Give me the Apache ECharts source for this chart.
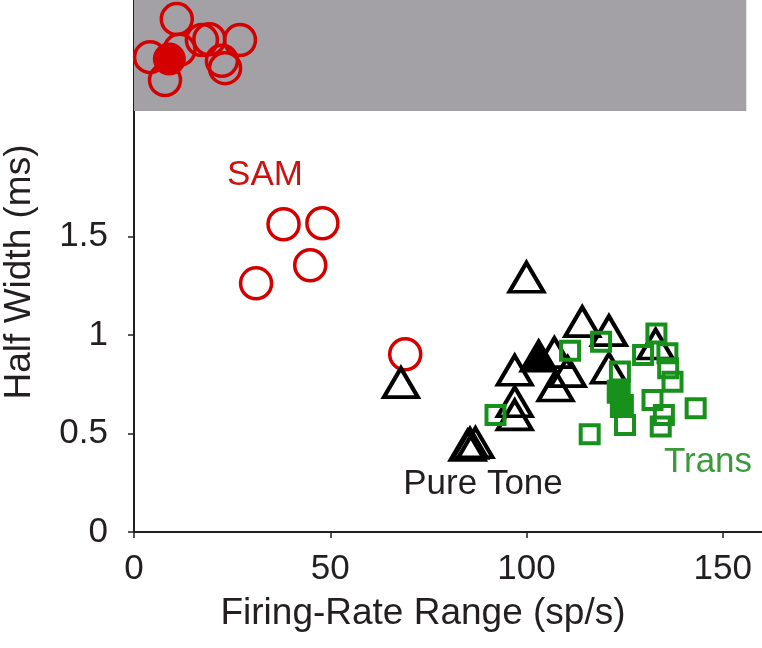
<!DOCTYPE html>
<html>
<head>
<meta charset="utf-8">
<script src="https://cdn.jsdelivr.net/npm/echarts@6/dist/echarts.min.js"></script>
<style>
html,body{margin:0;padding:0;background:#fff;}
#chart{width:762px;height:648px;}
</style>
</head>
<body>
<div id="chart"></div>
<script>
// ---- data (x: firing-rate range sp/s, y: half width ms) ----
var samOpen = [[38.1,1.562],[48.0,1.567],[44.9,1.354],[31.1,1.262],[69.1,0.902]];
// SAM units whose half width is off-scale (drawn inside the grey band)
var samOffOpen = [[10.9,2.603],[4.1,2.410],[11.6,2.447],[7.9,2.294],[17.3,2.497],[19.2,2.501],[27.0,2.497],[22.4,2.392],[23.2,2.354]];
var samOffFilled = [[9.0,2.400]];
var toneOpen = [[100.0,1.293],[68.0,0.758],[114.2,1.068],[121.0,1.022],[107.1,0.91],[97.0,0.821],[110.5,0.814],[107.4,0.741],[121.0,0.831],[97.0,0.661],[97.0,0.594],[132.9,0.954],[85.0,0.44],[85.6,0.45],[87.0,0.453]];
var toneFilled = [[103.1,0.893]];
var transOpen = [[92.1,0.594],[111.1,0.920],[119.0,0.966],[133.1,1.008],[129.7,0.898],[135.9,0.907],[123.8,0.814],[136.1,0.831],[137.2,0.763],[132.1,0.670],[143.1,0.628],[135.0,0.594],[134.2,0.535],[125.1,0.543],[116.1,0.496]];
var transFilled = [[123.5,0.712],[124.3,0.640]];
var xTicks = [0,50,100,150];
var yTicks = [0,0.5,1,1.5];
var offBand = [[0,2.137],[156,2.70]];

var RED = '#d40000', GREEN = '#17901c', BLACK = '#000000', AXIS = '#231f20';
var FONT = '"Liberation Sans", Arial, sans-serif';
var NONE = 'rgba(0,0,0,0)';

var chart = echarts.init(document.getElementById('chart'), null, {renderer:'canvas'});
chart.setOption({
  animation: false,
  backgroundColor: '#ffffff',
  grid: {left:134, top:0, right:0, bottom:116, containLabel:false},
  xAxis: {
    type:'value', min:0, max:160,
    splitLine:{show:false},
    axisLine:{show:true, onZero:false, lineStyle:{color:AXIS, width:2}},
    axisTick:{show:true, inside:false, length:6, lineStyle:{color:AXIS, width:1.5}, customValues: xTicks},
    axisLabel:{show:true, margin:20, fontSize:35, fontFamily:FONT, color:AXIS, customValues: xTicks}
  },
  yAxis: {
    type:'value', min:0, max:2.7,
    splitLine:{show:false},
    axisLine:{show:true, onZero:false, lineStyle:{color:AXIS, width:2}},
    axisTick:{show:true, inside:false, length:6, lineStyle:{color:AXIS, width:1.5}, customValues: yTicks},
    axisLabel:{show:true, margin:26, fontSize:35, fontFamily:FONT, color:AXIS, customValues: yTicks}
  },
  graphic: [
    {type:'text', x:423, y:614, style:{text:'Firing-Rate Range (sp/s)', textAlign:'center', textVerticalAlign:'middle', font:'37px '+FONT, fill:AXIS}},
    {type:'text', x:20, y:272, rotation:Math.PI/2, style:{text:'Half Width (ms)', textAlign:'center', textVerticalAlign:'middle', font:'37px '+FONT, fill:AXIS}},
    {type:'text', x:265, y:175, style:{text:'SAM', textAlign:'center', textVerticalAlign:'middle', font:'35px '+FONT, fill:'#cc1111'}},
    {type:'text', x:483, y:484, style:{text:'Pure Tone', textAlign:'center', textVerticalAlign:'middle', font:'35px '+FONT, fill:AXIS}},
    {type:'text', x:708, y:462, style:{text:'Trans', textAlign:'center', textVerticalAlign:'middle', font:'35px '+FONT, fill:'#3a9a3a'}}
  ],
  series: [
    {type:'scatter', z:1, data:[], markArea:{silent:true, itemStyle:{color:'#a3a1a5', opacity:1}, data:[[{coord:offBand[0]},{coord:offBand[1]}]]}},
    {type:'scatter', z:3, data:samOffOpen, symbol:'circle', symbolSize:31, itemStyle:{opacity:1, color:NONE, borderColor:RED, borderWidth:3.5}},
    {type:'scatter', z:3, data:samOffFilled, symbol:'circle', symbolSize:31, itemStyle:{opacity:1, color:RED, borderColor:RED, borderWidth:2}},
    {type:'scatter', z:3, data:samOpen, symbol:'circle', symbolSize:31, itemStyle:{opacity:1, color:NONE, borderColor:RED, borderWidth:3.5}},
    {type:'scatter', z:4, data:toneOpen, symbol:'triangle', symbolSize:[34,29], itemStyle:{opacity:1, color:NONE, borderColor:BLACK, borderWidth:4}},
    {type:'scatter', z:4, data:toneFilled, symbol:'triangle', symbolSize:[34,29], itemStyle:{opacity:1, color:BLACK, borderColor:BLACK, borderWidth:4}},
    {type:'scatter', z:5, data:transOpen, symbol:'rect', symbolSize:18, itemStyle:{opacity:1, color:NONE, borderColor:GREEN, borderWidth:4}},
    {type:'scatter', z:5, data:transFilled, symbol:'rect', symbolSize:20, itemStyle:{opacity:1, color:GREEN, borderColor:GREEN, borderWidth:4}}
  ]
});
</script>
</body>
</html>
